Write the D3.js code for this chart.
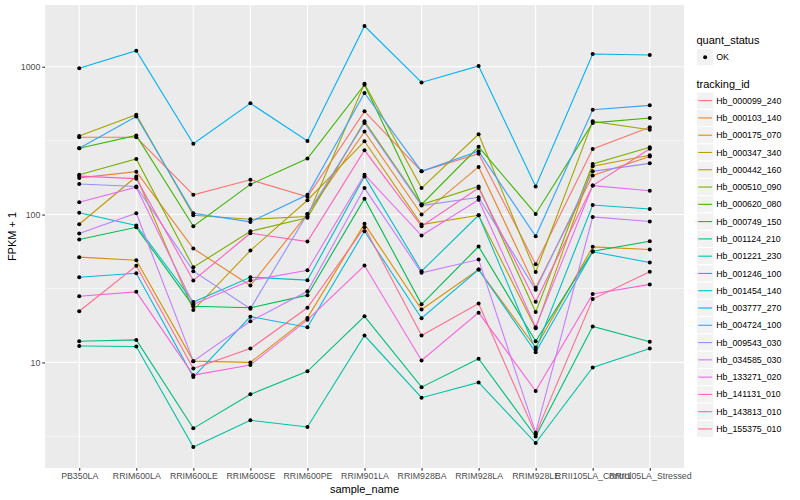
<!DOCTYPE html>
<html>
<head>
<meta charset="utf-8">
<script src="https://cdn.jsdelivr.net/npm/d3@7"></script>
<style>
  body { margin: 0; background: #fff; }
  svg text { font-family: "Liberation Sans", Arial, Helvetica, sans-serif; }
</style>
</head>
<body>
<div id="chart"></div>
<script>
  'use strict';

  var samples = ['PB350LA', 'RRIM600LA', 'RRIM600LE', 'RRIM600SE', 'RRIM600PE', 'RRIM901LA',
    'RRIM928BA', 'RRIM928LA', 'RRIM928LE', 'RRII105LA_Control', 'RRII105LA_Stressed'];

  // FPKM + 1, one array per tracking_id, in sample order
  var hb_000099_240 = [333, 333, 136, 172, 132, 499, 196, 258, 46.1, 278, 389];
  var hb_000103_140 = [177, 195, 58.9, 33.1, 101, 364, 100, 210, 32, 184, 247];
  var hb_000175_070 = [51.5, 49.1, 10.2, 10.0, 20, 86.5, 22.8, 42.5, 12.6, 60.5, 58];
  var hb_000347_340 = [86, 181, 22.6, 57.1, 125, 313, 85.6, 98.9, 17, 212, 252];
  var hb_000442_160 = [340, 474, 98.9, 92.9, 96.9, 768, 151, 349, 40.8, 427, 375];
  var hb_000510_090 = [186, 238, 44, 77.1, 95, 427, 117, 155, 21.9, 220, 285];
  var hb_000620_080 = [281, 343, 83.4, 160, 239, 756, 117, 287, 101, 417, 450];
  var hb_000749_150 = [67.8, 82, 24, 23.4, 28.5, 128, 24.7, 60.8, 13.9, 56.5, 66];
  var hb_001124_210 = [13.9, 14.2, 3.58, 6.08, 8.7, 20.5, 6.8, 10.6, 3.15, 17.5, 13.8];
  var hb_001221_230 = [12.9, 12.8, 2.68, 4.06, 3.66, 15.2, 5.77, 7.32, 2.85, 9.25, 12.4];
  var hb_001246_100 = [103, 84.3, 25.6, 37.7, 36, 181, 41.4, 98.9, 12.2, 116, 109];
  var hb_001454_140 = [37.7, 40.1, 7.96, 20.4, 17.3, 77.1, 19.9, 42.5, 11.7, 56, 47.4];
  var hb_003777_270 = [975, 1283, 301, 565, 315, 1884, 783, 1012, 155, 1219, 1200];
  var hb_004724_100 = [281, 461, 102, 89.2, 136, 664, 196, 268, 71.3, 512, 548];
  var hb_009543_030 = [161, 155, 41.4, 23.1, 101, 417, 115, 131, 31, 196, 222];
  var hb_034585_030 = [74.4, 102, 10.2, 19, 30.3, 151, 40.4, 49.6, 3.35, 96.4, 89.7];
  var hb_133271_020 = [121, 153, 24.7, 35.8, 42, 186, 72.1, 126, 17.3, 157, 145];
  var hb_141131_010 = [28, 30, 8.2, 9.6, 19.4, 45.2, 10.3, 21.7, 6.4, 29, 33.7];
  var hb_143813_010 = [182, 175, 35.8, 74.8, 65.7, 272, 83.4, 151, 25.7, 157, 279];
  var hb_155375_010 = [22.2, 45, 9.1, 12.4, 23.4, 82, 15.2, 25, 3.27, 26.8, 41];

  var tracking_ids = ['Hb_000099_240', 'Hb_000103_140', 'Hb_000175_070', 'Hb_000347_340',
    'Hb_000442_160', 'Hb_000510_090', 'Hb_000620_080', 'Hb_000749_150', 'Hb_001124_210',
    'Hb_001221_230', 'Hb_001246_100', 'Hb_001454_140', 'Hb_003777_270', 'Hb_004724_100',
    'Hb_009543_030', 'Hb_034585_030', 'Hb_133271_020', 'Hb_141131_010', 'Hb_143813_010',
    'Hb_155375_010'];
  var series_values = [hb_000099_240, hb_000103_140, hb_000175_070, hb_000347_340,
    hb_000442_160, hb_000510_090, hb_000620_080, hb_000749_150, hb_001124_210,
    hb_001221_230, hb_001246_100, hb_001454_140, hb_003777_270, hb_004724_100,
    hb_009543_030, hb_034585_030, hb_133271_020, hb_141131_010, hb_143813_010,
    hb_155375_010];

  var y_ticks = [10, 100, 1000];
  var quant_levels = ['OK'];

  // ggplot default hue palette for 20 levels
  var palette = ['#F8766D', '#EA8331', '#D89000', '#C09B00', '#A3A500', '#7CAE00', '#39B600',
    '#00BB4E', '#00BF7D', '#00C1A3', '#00BFC4', '#00BAE0', '#00B0F6', '#35A2FF', '#9590FF',
    '#C77CFF', '#E76BF3', '#FA62DB', '#FF62BC', '#FF6C91'];

  var width = 800;
  var height = 500;
  var panel = { left: 45, right: 684, top: 5, bottom: 468 };

  var series = tracking_ids.map(function(id, i) {
    return {
      id: id,
      color: palette[i],
      points: samples.map(function(s, j) { return { sample: s, value: series_values[i][j] }; })
    };
  });

  var all_values = d3.merge(series_values);
  var lmin = Math.log10(d3.min(all_values));
  var lmax = Math.log10(d3.max(all_values));
  var pad = (lmax - lmin) * 0.05;

  var x = d3.scalePoint()
    .domain(samples)
    .range([panel.left, panel.right])
    .padding(0.6);

  var y = d3.scaleLog()
    .domain([Math.pow(10, lmin - pad), Math.pow(10, lmax + pad)])
    .range([panel.bottom, panel.top]);

  var minor_ticks = [];
  for (var e = Math.floor(lmin - pad); e <= Math.ceil(lmax + pad); e++) {
    var v = Math.pow(10, e + 0.5);
    if (v > y.domain()[0] && v < y.domain()[1]) minor_ticks.push(v);
  }

  var svg = d3.select('#chart').append('svg')
    .attr('width', width)
    .attr('height', height);

  svg.append('rect')
    .attr('x', panel.left)
    .attr('y', panel.top)
    .attr('width', panel.right - panel.left)
    .attr('height', panel.bottom - panel.top)
    .style('fill', '#EBEBEB');

  var grid = svg.append('g');
  grid.selectAll('.minor')
    .data(minor_ticks)
    .enter()
    .append('line')
    .attr('x1', panel.left)
    .attr('x2', panel.right)
    .attr('y1', function(d) { return y(d); })
    .attr('y2', function(d) { return y(d); })
    .style('stroke', '#fff')
    .style('stroke-width', 0.55);

  grid.selectAll('.major-y')
    .data(y_ticks)
    .enter()
    .append('line')
    .attr('x1', panel.left)
    .attr('x2', panel.right)
    .attr('y1', function(d) { return y(d); })
    .attr('y2', function(d) { return y(d); })
    .style('stroke', '#fff')
    .style('stroke-width', 1.1);

  grid.selectAll('.major-x')
    .data(samples)
    .enter()
    .append('line')
    .attr('y1', panel.top)
    .attr('y2', panel.bottom)
    .attr('x1', function(d) { return x(d); })
    .attr('x2', function(d) { return x(d); })
    .style('stroke', '#fff')
    .style('stroke-width', 1.1);

  var line = d3.line()
    .x(function(d) { return x(d.sample); })
    .y(function(d) { return y(d.value); });

  svg.append('g')
    .selectAll('path')
    .data(series)
    .enter()
    .append('path')
    .attr('d', function(d) { return line(d.points); })
    .style('fill', 'none')
    .style('stroke', function(d) { return d.color; })
    .style('stroke-width', 1.1);

  svg.append('g')
    .selectAll('circle')
    .data(d3.merge(series.map(function(d) { return d.points; })))
    .enter()
    .append('circle')
    .attr('cx', function(d) { return x(d.sample); })
    .attr('cy', function(d) { return y(d.value); })
    .attr('r', 2)
    .style('fill', '#000');

  // axes
  var x_axis = svg.append('g')
    .attr('transform', 'translate(0,' + panel.bottom + ')')
    .call(d3.axisBottom(x).tickSize(2.7).tickPadding(2));
  var y_axis = svg.append('g')
    .attr('transform', 'translate(' + panel.left + ',0)')
    .call(d3.axisLeft(y).tickValues(y_ticks).tickFormat(d3.format('d')).tickSize(2.7).tickPadding(2));

  [x_axis, y_axis].forEach(function(ax) {
    ax.select('.domain').remove();
    ax.selectAll('line').style('stroke', '#333333').style('stroke-width', 1.1);
    ax.selectAll('text')
      .style('font-size', '8.8px')
      .style('fill', '#4D4D4D');
  });

  svg.append('text')
    .attr('x', (panel.left + panel.right) / 2)
    .attr('y', 493)
    .attr('text-anchor', 'middle')
    .style('font-size', '11px')
    .text('sample_name');

  svg.append('text')
    .attr('transform', 'translate(16,' + ((panel.top + panel.bottom) / 2) + ') rotate(-90)')
    .attr('text-anchor', 'middle')
    .style('font-size', '11px')
    .text('FPKM + 1');

  // legends
  var key = 17.28;
  var lx = 696.5;
  var legend = svg.append('g');

  legend.append('text')
    .attr('x', lx)
    .attr('y', 44)
    .style('font-size', '11px')
    .text('quant_status');

  var q = legend.selectAll('.q')
    .data(quant_levels)
    .enter()
    .append('g')
    .attr('transform', function(d, i) { return 'translate(' + lx + ',' + (48.5 + i * key) + ')'; });
  q.append('rect')
    .attr('width', key)
    .attr('height', key)
    .style('fill', '#F2F2F2')
    .style('stroke', '#fff');
  q.append('circle')
    .attr('cx', key / 2)
    .attr('cy', key / 2)
    .attr('r', 2)
    .style('fill', '#000');
  q.append('text')
    .attr('x', key + 2.5)
    .attr('y', key / 2)
    .attr('dy', '0.35em')
    .style('font-size', '8.8px')
    .text(function(d) { return d; });

  legend.append('text')
    .attr('x', lx)
    .attr('y', 88)
    .style('font-size', '11px')
    .text('tracking_id');

  var t = legend.selectAll('.t')
    .data(series)
    .enter()
    .append('g')
    .attr('transform', function(d, i) { return 'translate(' + lx + ',' + (92 + i * key) + ')'; });
  t.append('rect')
    .attr('width', key)
    .attr('height', key)
    .style('fill', '#F2F2F2')
    .style('stroke', '#fff');
  t.append('line')
    .attr('x1', 1.7)
    .attr('x2', key - 1.7)
    .attr('y1', key / 2)
    .attr('y2', key / 2)
    .style('stroke', function(d) { return d.color; })
    .style('stroke-width', 1.1);
  t.append('text')
    .attr('x', key + 2.5)
    .attr('y', key / 2)
    .attr('dy', '0.35em')
    .style('font-size', '8.8px')
    .text(function(d) { return d.id; });
</script>
</body>
</html>
